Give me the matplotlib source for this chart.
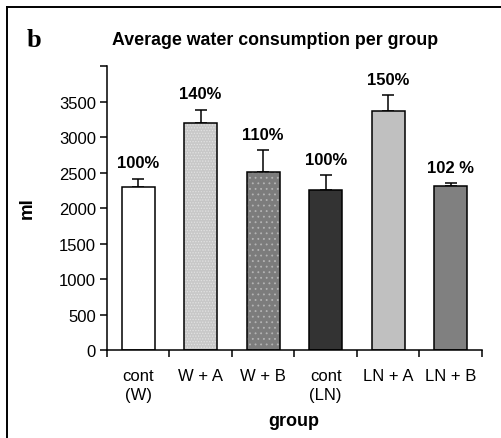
import numpy as np
import matplotlib
matplotlib.use("Agg")
import matplotlib.pyplot as plt
from matplotlib.lines import Line2D

plt.rcParams['font.family'] = ['Liberation Sans', 'DejaVu Sans']

# data
groups = ["cont\n(W)", "W + A", "W + B", "cont\n(LN)", "LN + A", "LN + B"]
water_ml = [2300, 3200, 2510, 2260, 3370, 2305]
error_ml = [115, 185, 310, 200, 225, 50]
pct_labels = ["100%", "140%", "110%", "100%", "150%", "102 %"]
bar_colors = ["#ffffff", "#c8c8c8", "#7c7c7c", "#333333", "#c0c0c0", "#808080"]
hatches = [None, "......", "...", None, None, None]
hatch_colors = [None, "#e2e2e2", "#b4b4b4", None, None, None]

fig = plt.figure(figsize=(5.02, 4.39), dpi=100)
ax = fig.add_axes([0.213, 0.2005, 0.747, 0.6465])

x = np.arange(len(groups))
width = 0.53

# fill + dotted pattern first, then the black outline
plt.rcParams['hatch.linewidth'] = 0.6
for i in range(len(groups)):
    if hatches[i]:
        ax.bar(x[i], water_ml[i], width, color=bar_colors[i], hatch=hatches[i],
               edgecolor=hatch_colors[i], linewidth=0, zorder=2)
    else:
        ax.bar(x[i], water_ml[i], width, color=bar_colors[i], linewidth=0, zorder=2)
ax.bar(x, water_ml, width, color="none", edgecolor="black", linewidth=1.1, zorder=3)

ax.errorbar(x, water_ml, yerr=[np.zeros(len(x)), error_ml], fmt="none",
            ecolor="black", elinewidth=1.1, capsize=4.3, capthick=1.1, zorder=1)

for i in range(len(groups)):
    ax.annotate(pct_labels[i], (x[i], water_ml[i] + error_ml[i]), xytext=(0, 6),
                textcoords="offset points", ha="center", va="bottom",
                fontsize=12, fontweight="bold")

ax.set_xlim(-0.5, len(groups) - 0.5)
ax.set_ylim(0, 4000)
ax.set_yticks(np.arange(0, 4001, 500))
ax.set_yticklabels([str(v) for v in range(0, 3501, 500)] + [""])
ax.set_xticks(x)
ax.set_xticklabels(groups, fontsize=12, va="top", linespacing=1.3)
ax.set_xticks(np.arange(-0.5, len(groups)), minor=True)
ax.tick_params(axis="x", which="major", length=0, pad=13)
ax.tick_params(axis="x", which="minor", length=5, width=1.1, direction="out")
ax.tick_params(axis="y", length=5, width=1.1, labelsize=12, pad=3)

for s in ["top", "right"]:
    ax.spines[s].set_visible(False)
for s in ["left", "bottom"]:
    ax.spines[s].set_linewidth(1.1)

ax.set_ylabel("ml", fontsize=13.5, fontweight="bold")
ax.yaxis.set_label_coords(-0.19, 0.505)
ax.set_xlabel("group", fontsize=13, fontweight="bold")
ax.xaxis.set_label_coords(0.497, -0.218)

fig.text(0.548, 0.908, "Average water consumption per group", ha="center", va="center",
         fontsize=12.8, fontweight="bold")
fig.text(0.053, 0.907, "b", ha="left", va="center", fontsize=19, fontweight="bold",
         family="Liberation Serif")

# outer frame (top and left edges visible)
fig.add_artist(Line2D([0.014, 1.0], [0.982, 0.982], color="black", lw=1.4))
fig.add_artist(Line2D([0.014, 0.014], [0.0, 0.982], color="black", lw=1.4))

fig.savefig("out.png", dpi=100)
